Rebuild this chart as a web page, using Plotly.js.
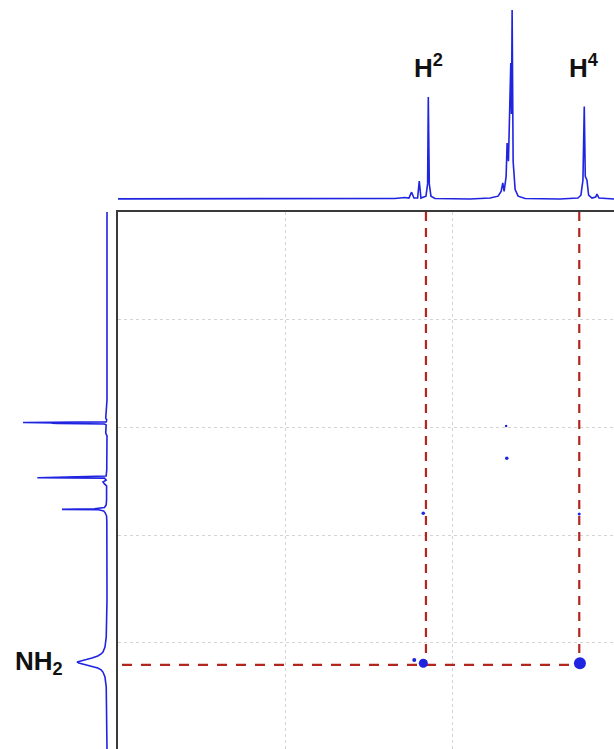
<!DOCTYPE html>
<html>
<head>
<meta charset="utf-8">
<script src="https://cdn.plot.ly/plotly-3.0.1.min.js"></script>
<style>
  html, body { margin: 0; padding: 0; background: #ffffff; }
  #chart { width: 614px; height: 749px; }
</style>
</head>
<body>
<div id="chart"></div>
<script>
// ---------- F2 (horizontal) 1D projection: chemical shift (ppm) / intensity ----------
const f2Shift = [9.200, 9.000, 8.600, 8.300, 8.171, 8.141, 8.129, 8.121, 8.114, 8.103, 8.098, 8.093,
  8.078, 8.073, 8.071, 8.068, 8.063, 8.051, 7.946, 7.886, 7.862, 7.853, 7.848, 7.844, 7.838,
  7.835, 7.831, 7.824, 7.822, 7.820, 7.817, 7.811, 7.802, 7.781, 7.677, 7.623, 7.614, 7.608,
  7.604, 7.601, 7.596, 7.591, 7.581, 7.570, 7.566, 7.560, 7.515, 7.400];
const f2Int = [0, 0, 0, 0, 0.3, 0.8, 0.5, 3.6, 0.5, 0.5, 9.5, 0.5,
  1.5, 8, 54, 8, 1.5, 0.3, 0, 0.5, 1.5, 4, 8.5, 4, 12,
  29.6, 20, 72, 45, 100, 20, 5, 1.5, 0.3, 0, 0.5, 2, 10,
  49, 12, 10, 2, 0.5, 1, 2.6, 0.5, 0, 0];

// ---------- F1 (vertical) 1D projection ----------
const f1Shift = [4.900, 5.000, 5.408, 5.872, 5.956, 5.965, 5.974, 5.976, 5.977, 5.979, 5.980, 5.981,
  5.984, 5.988, 6.026, 6.039, 6.197, 6.225, 6.233, 6.235, 6.244, 6.253, 6.262, 6.271,
  6.336, 6.360, 6.371, 6.377, 6.380, 6.382, 6.387, 6.397, 6.411, 6.439,
  6.800, 6.972, 7.019, 7.042, 7.051, 7.060, 7.070, 7.079, 7.084, 7.088, 7.093, 7.098,
  7.107, 7.116, 7.125, 7.135, 7.158, 7.204, 7.492, 7.600];
const f1Int = [0, 0, 0, 0, 1.5, 0.3, 1, 66, 100, 62, 66, 58,
  3, 1, 1.5, 0, 0.3, 1, 83, 3, 1, 4.8, 3, 0.5,
  0.5, 1, 3, 15, 53.6, 10, 4, 2, 0.5, 0.2,
  0, 0.9, 2.4, 4.8, 7, 11, 17.8, 28, 33.6, 35.7, 33.6, 28,
  17.8, 11, 7, 4.8, 2.4, 0.9, 0, 0];

// ---------- 2D cross peaks ----------
const crossF2 = [8.086, 8.113, 7.617, 8.086, 7.619, 7.836, 7.838];
const crossF1 = [7.094, 7.079, 7.094, 6.398, 6.401, 6.143, 5.993];
const crossInt = [9, 4, 12, 3.5, 3, 3.5, 2.5];

// ---------- correlation guides ----------
const guideF2 = [8.078, 7.619];      // H2, H4 columns
const guideF1 = 7.102;               // NH2 row
const guideStartF2 = 8.988;
const topF1 = 5.0;

// ---------- labels ----------
const peakLabels = ['H<sup>2</sup>', 'H<sup>4</sup>'];
const peakLabelF2 = [8.071, 7.604];
const rowLabel = 'NH<sub>2</sub>';

const blue = '#1f24e0';
const red = '#b3261e';

const traces = [];
// top spectrum
traces.push({x: f2Shift, y: f2Int, xaxis: 'x2', yaxis: 'y2', mode: 'lines',
  line: {color: blue, width: 1.6}, hoverinfo: 'skip', showlegend: false});
// left spectrum
traces.push({x: f1Int, y: f1Shift, xaxis: 'x3', yaxis: 'y3', mode: 'lines',
  line: {color: blue, width: 1.6}, hoverinfo: 'skip', showlegend: false});
// guides
guideF2.forEach(g => traces.push({x: [g, g], y: [topF1, guideF1], xaxis: 'x', yaxis: 'y',
  mode: 'lines', line: {color: red, width: 2.2, dash: '9px,7px'}, hoverinfo: 'skip', showlegend: false}));
traces.push({x: [guideStartF2, guideF2[1]], y: [guideF1, guideF1], xaxis: 'x', yaxis: 'y',
  mode: 'lines', line: {color: red, width: 2.2, dash: '10px,9px'}, hoverinfo: 'skip', showlegend: false});
// cross peaks
traces.push({x: crossF2, y: crossF1, xaxis: 'x', yaxis: 'y', mode: 'markers',
  marker: {color: blue, opacity: 1, size: crossInt.map(v => v), line: {width: 0}},
  hoverinfo: 'skip', showlegend: false});

const W = 614, H = 749;
const plotLeft = 118, plotTop = 212;
const mainXDom = [plotLeft / W, 1];
const mainYDom = [0, (H - plotTop) / H];

const labelFont = {family: 'Liberation Sans, Arial, sans-serif', size: 26, color: '#111', weight: 'bold'};
const annotations = [];
peakLabels.forEach((t, i) => annotations.push({text: t, x: peakLabelF2[i], xref: 'x2',
  y: 70, yref: 'y2', xanchor: 'center', yanchor: 'middle', showarrow: false, font: labelFont}));
annotations.push({text: rowLabel, x: 39 / W, xref: 'paper', y: 7.090, yref: 'y3',
  xanchor: 'center', yanchor: 'middle', showarrow: false, font: labelFont});

const layout = {
  width: W, height: H,
  margin: {l: 0, r: 0, t: 0, b: 0, pad: 0},
  paper_bgcolor: '#ffffff', plot_bgcolor: 'rgba(0,0,0,0)',
  showlegend: false,
  xaxis: {domain: mainXDom, anchor: 'y', range: [9.0, 7.515], side: 'top',
    showgrid: true, gridcolor: '#d4d4d4', griddash: 'dot', gridwidth: 1, dtick: 0.5, tick0: 0,
    showticklabels: false, ticks: '', zeroline: false,
    showline: true, linecolor: '#3a3a3a', linewidth: 1.6, mirror: false},
  yaxis: {domain: mainYDom, anchor: 'x', range: [7.492, 5.0],
    showgrid: true, gridcolor: '#d4d4d4', griddash: 'dot', gridwidth: 1, dtick: 0.5, tick0: 0,
    showticklabels: false, ticks: '', zeroline: false,
    showline: true, linecolor: '#3a3a3a', linewidth: 1.6, mirror: false},
  xaxis2: {domain: mainXDom, anchor: 'y2', range: [9.0, 7.515], visible: false},
  yaxis2: {domain: [mainYDom[1], 1], anchor: 'x2', range: [-6.88, 105.3], visible: false},
  xaxis3: {domain: [0, plotLeft / W], anchor: 'y3', range: [127.4, -13.1], visible: false},
  yaxis3: {domain: mainYDom, anchor: 'x3', range: [7.492, 5.0], visible: false},
  annotations: annotations
};

Plotly.newPlot('chart', traces, layout, {staticPlot: true, displayModeBar: false});
</script>
</body>
</html>
